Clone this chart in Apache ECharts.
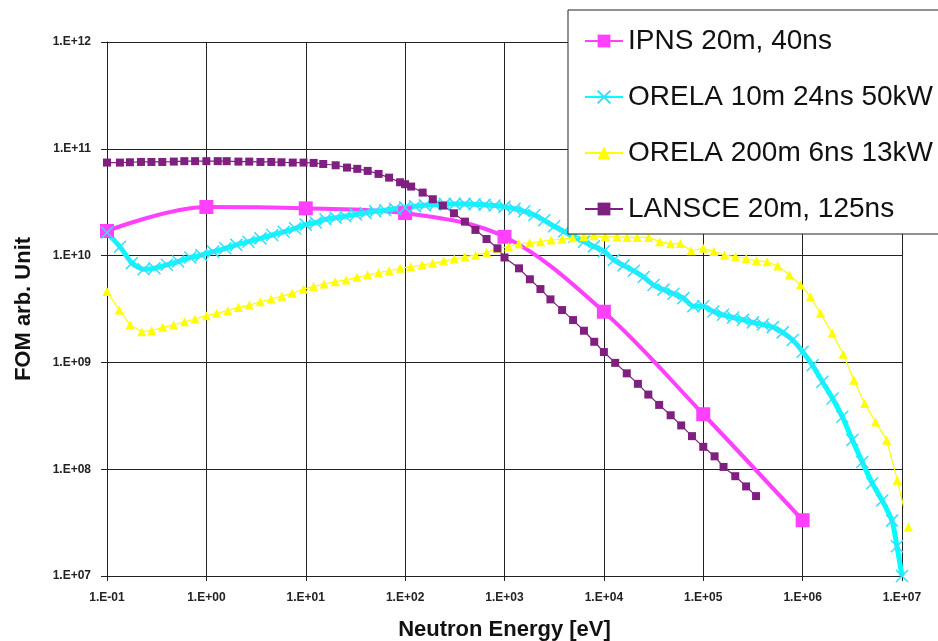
<!DOCTYPE html>
<html>
<head>
<meta charset="utf-8">
<script src="https://cdn.jsdelivr.net/npm/echarts@6/dist/echarts.min.js"></script>
<style>
  html, body { margin: 0; padding: 0; background: #fff; }
  #chart { width: 938px; height: 641px; }
</style>
</head>
<body>
<div id="chart"></div>
<script>
// series names (legend order)
var names = ['IPNS 20m, 40ns', 'ORELA 10m 24ns 50kW', 'ORELA 200m 6ns 13kW', 'LANSCE 20m, 125ns'];

// IPNS 20m, 40ns
var ipnsX = [0.1, 1, 10, 100, 1000, 1e4, 1e5, 1e6];
var ipnsY = [1.7e10, 2.85e10, 2.77e10, 2.5e10, 1.5e10, 2.98e9, 3.27e8, 3.33e7];

// ORELA 10m 24ns 50kW
var orela10X = [0.1, 0.135, 0.178, 0.234, 0.30, 0.40, 0.52, 0.69, 0.89, 1.17, 1.55, 2.0, 2.65, 3.5, 4.6, 6.0, 7.8,
  10, 12.6, 15.8, 20, 25, 32, 40, 50, 63, 79, 100, 126, 158, 200, 251, 316, 398, 501, 631, 794,
  1000, 1260, 1580, 2000, 2510, 3160, 3980, 5010, 6310, 7940,
  1e4, 12600, 15800, 20000, 25100, 31600, 39800, 50100, 63100, 79400,
  1e5, 126000, 158000, 200000, 251000, 316000, 398000, 501000, 631000, 794000,
  1e6, 1.26e6, 1.58e6, 2.0e6, 2.51e6, 3.16e6, 3.98e6, 5.01e6, 6.31e6, 7.94e6, 8.9e6, 1e7];
var orela10Y = [1.64e10, 1.21e10, 8.5e9, 7.45e9, 7.6e9, 8.2e9, 8.8e9, 9.6e9, 1.01e10, 1.09e10, 1.17e10, 1.26e10, 1.35e10, 1.45e10, 1.56e10, 1.67e10, 1.80e10,
  1.95e10, 2.04e10, 2.19e10, 2.26e10, 2.34e10, 2.43e10, 2.51e10, 2.60e10, 2.66e10, 2.75e10, 2.83e10, 2.90e10, 2.96e10, 3.01e10, 3.04e10, 3.05e10, 3.05e10, 3.03e10, 2.99e10, 2.94e10,
  2.86e10, 2.75e10, 2.60e10, 2.40e10, 2.14e10, 1.88e10, 1.68e10, 1.50e10, 1.35e10, 1.22e10,
  1.10e10, 9.1e9, 8.1e9, 7.2e9, 6.3e9, 5.3e9, 4.8e9, 4.4e9, 4.0e9, 3.35e9,
  3.35e9, 3.0e9, 2.79e9, 2.63e9, 2.51e9, 2.37e9, 2.26e9, 2.14e9, 1.91e9, 1.62e9,
  1.26e9, 9.4e8, 6.6e8, 4.6e8, 3.1e8, 1.88e8, 1.17e8, 7.4e7, 5.1e7, 3.3e7, 1.9e7, 1e7];

// ORELA 200m 6ns 13kW
var orela200X = [0.1, 0.133, 0.171, 0.224, 0.282, 0.363, 0.466, 0.603, 0.769, 1, 1.27, 1.64, 2.1, 2.71, 3.48, 4.48, 5.74, 7.28, 9.5,
  12, 15.3, 19.8, 25.5, 32.7, 41.8, 54, 69, 89, 114, 148, 189, 244, 312, 400, 512, 661, 845,
  1100, 1390, 1790, 2300, 2940, 3790, 4850, 6270, 7940, 10350, 13600, 17100, 21600, 28200, 36500, 46800, 58900, 75500,
  99800, 127600, 163300, 210900, 270400, 343600, 439500, 562300, 738000, 952800,
  1.2e6, 1.51e6, 1.99e6, 2.56e6, 3.28e6, 4.21e6, 5.43e6, 7.01e6, 8.97e6, 1.16e7];
var orela200Y = [4.6e9, 3.1e9, 2.24e9, 1.94e9, 1.98e9, 2.13e9, 2.24e9, 2.4e9, 2.55e9, 2.74e9, 2.88e9, 3.05e9, 3.27e9, 3.44e9, 3.70e9, 3.92e9, 4.17e9, 4.44e9, 4.85e9,
  5.15e9, 5.42e9, 5.70e9, 5.90e9, 6.27e9, 6.58e9, 6.92e9, 7.21e9, 7.60e9, 7.87e9, 8.17e9, 8.47e9, 8.89e9, 9.29e9, 9.77e9, 1.01e10, 1.07e10, 1.17e10,
  1.21e10, 1.29e10, 1.32e10, 1.35e10, 1.40e10, 1.42e10, 1.47e10, 1.50e10, 1.53e10, 1.50e10, 1.50e10, 1.48e10, 1.48e10, 1.48e10, 1.35e10, 1.29e10, 1.30e10, 1.11e10,
  1.17e10, 1.09e10, 1.01e10, 9.8e9, 9.4e9, 8.95e9, 8.77e9, 8.0e9, 6.58e9, 5.3e9,
  4.12e9, 2.88e9, 1.87e9, 1.19e9, 6.8e8, 4.13e8, 2.77e8, 1.87e8, 7.9e7, 2.88e7];

// LANSCE 20m, 125ns
var lansceX = [0.1, 0.135, 0.17, 0.22, 0.28, 0.36, 0.47, 0.6, 0.77, 1, 1.3, 1.6, 2.1, 2.7, 3.5, 4.5, 5.7, 7.4, 9.5,
  12, 15, 20, 26, 33, 42, 54, 69, 89, 100, 115, 150, 190, 240, 310, 400, 510, 660, 850,
  1000, 1400, 1800, 2300, 2900, 3800, 4900, 6300, 8000, 10000, 13000, 17000, 22000, 28000, 36000, 47000, 60000, 77000,
  100000, 130000, 160000, 210000, 270000, 340000];
var lansceY = [7.43e10, 7.43e10, 7.48e10, 7.53e10, 7.53e10, 7.53e10, 7.59e10, 7.66e10, 7.66e10, 7.66e10, 7.66e10, 7.66e10, 7.59e10, 7.59e10, 7.53e10, 7.53e10, 7.48e10, 7.43e10, 7.43e10,
  7.38e10, 7.21e10, 7.01e10, 6.67e10, 6.49e10, 6.21e10, 5.82e10, 5.37e10, 4.86e10, 4.66e10, 4.43e10, 3.89e10, 3.37e10, 2.94e10, 2.49e10, 2.08e10, 1.74e10, 1.43e10, 1.17e10,
  9.6e9, 7.6e9, 6.0e9, 4.86e9, 3.89e9, 3.09e9, 2.49e9, 1.98e9, 1.56e9, 1.25e9, 9.9e8, 7.9e8, 6.3e8, 5.0e8, 4.0e8, 3.2e8, 2.57e8, 2.04e8,
  1.62e8, 1.32e8, 1.05e8, 8.6e7, 6.9e7, 5.6e7];

function pairs(xs, ys) {
  return xs.map(function (x, i) { return [x, ys[i]]; });
}

function expLabel(v) {
  var e = Math.round(Math.log10(v));
  var a = Math.abs(e);
  return '1.E' + (e < 0 ? '-' : '+') + (a < 10 ? '0' : '') + a;
}

var font = 'Liberation Sans, Arial, sans-serif';
var gridColor = '#222';

var chart = echarts.init(document.getElementById('chart'), null, { renderer: 'canvas' });
var option = {
  animation: false,
  backgroundColor: '#fff',
  grid: { left: 107, right: 36, top: 42, bottom: 65, containLabel: false, outerBoundsMode: 'none' },
  legend: {
    orient: 'vertical',
    left: 568,
    top: 10,
    padding: [17, 40, 11, 16],
    itemGap: 28,
    itemWidth: 38,
    itemHeight: 16,
    itemTextGap: 6,
    backgroundColor: '#fff',
    borderColor: gridColor,
    borderWidth: 1,
    borderRadius: 0,
    textStyle: { fontSize: 28, color: '#111', fontFamily: font },
    data: names
  },
  xAxis: {
    type: 'log',
    logBase: 10,
    min: 0.1,
    max: 1e7,
    splitNumber: 8,
    name: 'Neutron Energy [eV]',
    nameLocation: 'middle',
    nameGap: 43,
    nameTextStyle: { fontSize: 22, fontWeight: 'bold', color: '#111', fontFamily: font },
    axisLine: { show: true, lineStyle: { color: gridColor, width: 1 } },
    axisTick: { show: true, length: 5, lineStyle: { color: gridColor } },
    minorTick: { show: false },
    splitLine: { show: true, lineStyle: { color: gridColor, width: 1 } },
    axisLabel: { margin: 16, fontSize: 12, fontWeight: 'bold', color: '#222', fontFamily: font, formatter: expLabel }
  },
  yAxis: {
    type: 'log',
    logBase: 10,
    min: 1e7,
    max: 1e12,
    splitNumber: 5,
    name: 'FOM arb. Unit',
    nameLocation: 'middle',
    nameGap: 72,
    nameTextStyle: { fontSize: 22, fontWeight: 'bold', color: '#111', fontFamily: font },
    axisLine: { show: true, lineStyle: { color: gridColor, width: 1 } },
    axisTick: { show: true, length: 6, lineStyle: { color: gridColor } },
    minorTick: { show: false },
    splitLine: { show: true, lineStyle: { color: gridColor, width: 1 } },
    axisLabel: { margin: 16, fontSize: 12, fontWeight: 'bold', color: '#222', fontFamily: font, formatter: expLabel }
  },
  series: [
    {
      name: names[0],
      type: 'line',
      data: pairs(ipnsX, ipnsY),
      smooth: 0.35,
      symbol: 'rect',
      symbolSize: 14,
      showAllSymbol: true,
      itemStyle: { color: '#ff40ff' },
      lineStyle: { color: '#ff40ff', width: 4 }
    },
    {
      name: names[1],
      type: 'line',
      data: pairs(orela10X, orela10Y),
      smooth: 0.2,
      clip: false,
      symbol: 'path://M0,0L10,10M10,0L0,10',
      symbolSize: 12,
      showAllSymbol: true,
      itemStyle: { color: '#38dcff', borderColor: '#38dcff', borderWidth: 1.5 },
      lineStyle: { color: '#00ffff', width: 5 }
    },
    {
      name: names[2],
      type: 'line',
      data: pairs(orela200X, orela200Y),
      clip: false,
      symbol: 'triangle',
      symbolSize: 9,
      showAllSymbol: true,
      itemStyle: { color: '#ffff00' },
      lineStyle: { color: '#ffff00', width: 1.2 }
    },
    {
      name: names[3],
      type: 'line',
      data: pairs(lansceX, lansceY),
      symbol: 'rect',
      symbolSize: 8,
      showAllSymbol: true,
      itemStyle: { color: '#7f1f7f' },
      lineStyle: { color: '#7f1f7f', width: 1.2 }
    }
  ]
};
chart.setOption(option);
</script>
</body>
</html>
